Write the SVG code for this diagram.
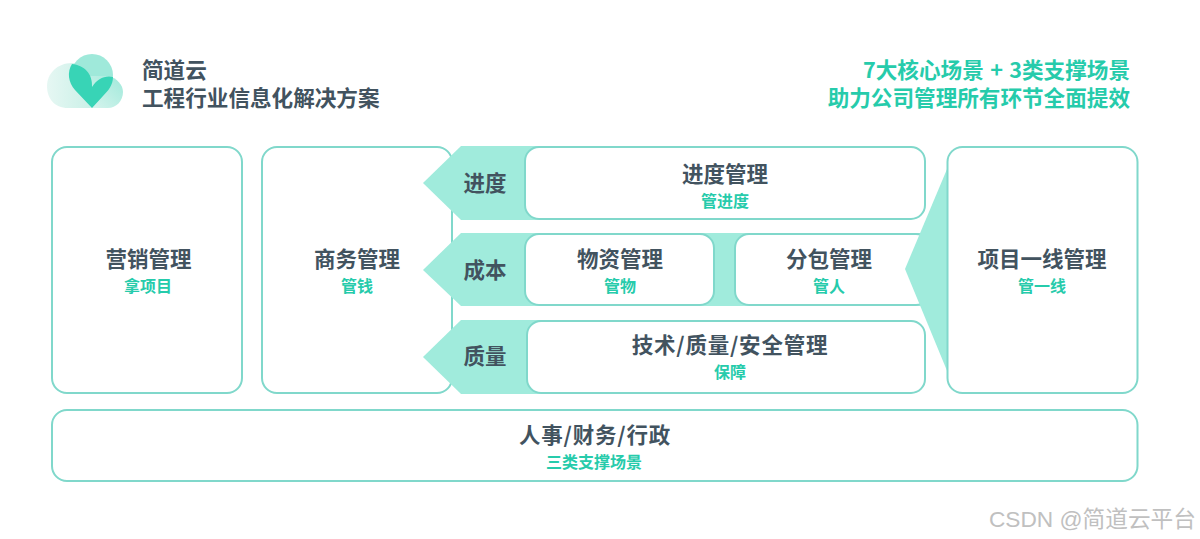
<svg xmlns="http://www.w3.org/2000/svg" width="1200" height="539" viewBox="0 0 1200 539">
<defs>
<linearGradient id="cl" x1="0" y1="0" x2="1" y2="0"><stop offset="0" stop-color="#e6f7f3"/><stop offset="1" stop-color="#c4efe5"/></linearGradient>
<linearGradient id="cr" x1="0" y1="1" x2="1" y2="0"><stop offset="0" stop-color="#d8f4ee"/><stop offset="1" stop-color="#9fe9da"/></linearGradient>
</defs>
<style>
text{font-family:"Noto Sans CJK SC","Noto Sans",sans-serif;text-anchor:middle}
.box{fill:#fff;stroke:#80d8cb;stroke-width:2}
.band{fill:#a0ebdc}
.t{font-size:21.5px;font-weight:700;fill:#42535f}
.w{letter-spacing:.8px}
.s{font-size:16px;font-weight:700;fill:#26cbab}
.h{font-size:21.600px;font-weight:700;fill:#42535f;text-anchor:start}
.g{font-size:21.600px;font-weight:700;fill:#26cbab;text-anchor:end}
</style>
<rect width="1200" height="539" fill="#fff"/>
<g id="logo">
<path d="M68 108C54 108 47 98 47 86C47 74 57 63 72 63L100 64L100 108Z" fill="url(#cl)"/>
<circle cx="92" cy="75" r="21" fill="#9fe9da"/>
<path d="M100 108L90 108L90 76L108 76C117 78 123 85 123 92C123 101 116 108 108 108Z" fill="url(#cr)"/>
<path d="M92 108L75 90C68 82 67 72 72 64C84 65 93 74 92 87C97 79 105 75 113 77C113 85 108 91 103 96Z" fill="#38d4b6"/>
</g>
<g id="title">
<text class="h" x="142" y="78">简道云</text>
<text class="h" x="142" y="106">工程行业信息化解决方案</text>
</g>
<g id="slogan">
<text class="g" x="1130" y="78" style="word-spacing:1.5px">7大核心场景 + 3类支撑场景</text>
<text class="g" x="1130" y="106">助力公司管理所有环节全面提效</text>
</g>
<g id="node-marketing">
<rect class="box" x="52" y="147" width="190" height="246" rx="15"/>
<text class="t" x="148.500" y="267">营销管理</text>
<text class="s" x="148" y="292">拿项目</text>
</g>
<g id="node-business">
<rect class="box" x="262" y="147" width="190" height="246" rx="15"/>
<text class="t" x="357" y="267">商务管理</text>
<text class="s" x="357" y="292">管钱</text>
</g>
<g id="connectors">
<path class="band" d="M461 146H560V220H461L423 183Z"/>
<path class="band" d="M461 233H925V306H461L423 270Z"/>
<path class="band" d="M461 320H560V394H461L423 357Z"/>
</g>
<g id="node-progress">
<text class="t" x="485" y="191">进度</text>
<rect class="box" x="525" y="147" width="400" height="72" rx="14"/>
<text class="t" x="725" y="182">进度管理</text>
<text class="s" x="725" y="207">管进度</text>
</g>
<g id="node-cost">
<text class="t" x="485" y="278">成本</text>
</g>
<g id="node-material">
<rect class="box" x="525" y="234" width="189" height="71" rx="14"/>
<text class="t" x="620" y="267">物资管理</text>
<text class="s" x="620" y="292">管物</text>
</g>
<g id="node-subcontract">
<rect class="box" x="735" y="234" width="195" height="71" rx="14"/>
<text class="t" x="829" y="267">分包管理</text>
<text class="s" x="829" y="292">管人</text>
</g>
<g id="node-quality">
<text class="t" x="485" y="364">质量</text>
<rect class="box" x="527" y="321" width="398" height="72" rx="14"/>
<text class="t w" x="730" y="353">技术/质量/安全管理</text>
<text class="s" x="730" y="378">保障</text>
</g>
<g id="node-frontline">
<path class="band" d="M950 162L905 269L950 378Z"/>
<rect class="box" x="947.500" y="147" width="190" height="246" rx="15"/>
<text class="t" x="1042" y="267">项目一线管理</text>
<text class="s" x="1042" y="292">管一线</text>
</g>
<g id="node-support">
<rect class="box" x="52" y="410" width="1085.500" height="71" rx="15"/>
<text class="t w" x="595" y="443">人事/财务/行政</text>
<text class="s" x="594" y="468">三类支撑场景</text>
</g>
<text x="1196" y="527" style="text-anchor:end;font-family:'Liberation Sans','Noto Sans CJK SC',sans-serif;font-size:22.700px;fill:#c0c0c0">CSDN @简道云平台</text>
</svg>
